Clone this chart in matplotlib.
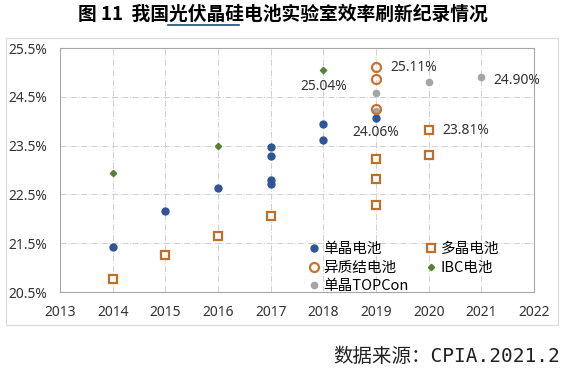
import matplotlib.pyplot as plt
from matplotlib.patches import Rectangle
from matplotlib.lines import Line2D
from matplotlib.ticker import FuncFormatter

plt.rcParams['font.family'] = ['Noto Sans', 'Noto Sans CJK SC', 'DejaVu Sans']

# 数据（效率 %）
mono_x = [2014, 2015, 2016, 2017, 2017, 2017, 2017, 2018, 2018, 2019]
mono_y = [21.42, 22.16, 22.63, 23.47, 23.28, 22.79, 22.72, 23.95, 23.61, 24.06]

poly_x = [2014, 2015, 2016, 2017, 2019, 2019, 2019, 2020, 2020]
poly_y = [20.77, 21.26, 21.65, 22.06, 23.23, 22.82, 22.29, 23.81, 23.30]

hjt_x = [2019, 2019, 2019]
hjt_y = [25.11, 24.86, 24.26]

ibc_x = [2014, 2016, 2018]
ibc_y = [22.94, 23.49, 25.04]

topcon_x = [2019, 2019, 2020, 2021]
topcon_y = [24.58, 24.21, 24.80, 24.90]

cjk = ['Noto Sans CJK SC', 'DejaVu Sans']

fig = plt.figure(figsize=(5.66, 3.71), dpi=100)

# 外框
fig.patches.append(Rectangle((6 / 566, 1 - 325 / 371), 552 / 566, 287 / 371,
                             transform=fig.transFigure, fill=False,
                             edgecolor='#d9d9d9', lw=0.8))

ax = fig.add_axes([60 / 566, 1 - 292 / 371, 474 / 566, 244 / 371])

h_mono, = ax.plot(mono_x, mono_y, 'o', color='#2F5597', ms=5, label='单晶电池', zorder=3)
h_poly, = ax.plot(poly_x, poly_y, 's', mfc='white', mec='#BF6F2A', mew=1.6, ms=6,
                  label='多晶电池', zorder=3)
h_hjt, = ax.plot(hjt_x, hjt_y, 'o', mfc='none', mec='#C8742E', mew=1.6, ms=6.5,
                 label='异质结电池', zorder=3)
h_ibc, = ax.plot(ibc_x, ibc_y, 'D', color='#548235', ms=3.2, label='IBC电池', zorder=3)
h_top, = ax.plot(topcon_x, topcon_y, 'o', color='#A5A5A5', ms=4.5, label='单晶TOPCon',
                 zorder=2)

# 数据标签
lab = dict(textcoords='offset points', fontsize=10, color='#333333')
ax.annotate('25.04%', (2018, 25.04), xytext=(0, -6), ha='center', va='top', **lab)
ax.annotate('25.11%', (2019, 25.11), xytext=(10, 0), ha='left', va='center', **lab)
ax.annotate('24.90%', (2021, 24.90), xytext=(9, -2), ha='left', va='center', **lab)
ax.annotate('24.06%', (2019, 24.06), xytext=(0, -5), ha='center', va='top', **lab)
ax.annotate('23.81%', (2020, 23.81), xytext=(10, 0), ha='left', va='center', **lab)

ax.set_xlim(2013, 2022)
ax.set_ylim(20.5, 25.5)
ax.set_xticks(range(2013, 2023))
ax.set_yticks([20.5, 21.5, 22.5, 23.5, 24.5, 25.5])
ax.yaxis.set_major_formatter(FuncFormatter(lambda v, p: f'{v:.1f}%'))
ax.tick_params(length=0, labelsize=10, labelcolor='#333333', pad=9)
ax.grid(True, color='#d0d0d0', ls='-.', lw=0.7)
for s in ax.spines.values():
    s.set_color('#a6a6a6')
    s.set_linewidth(0.8)

# 图例：按行排列（matplotlib按列填充，所以调整顺序）
handles = [h_mono, h_hjt, h_top, h_poly, h_ibc]
ax.legend(handles, [h.get_label() for h in handles], ncol=2,
          loc='lower left', bbox_to_anchor=(0.503, -0.046),
          frameon=False, handlelength=0.7, handletextpad=0.3,
          columnspacing=1.2, labelspacing=0.3, borderpad=0.2,
          prop={'family': cjk, 'size': 10.5})

# 标题
title_str = '图 11  我国光伏晶硅电池实验室效率刷新纪录情况'
ty = 1 - 14 / 371
t = fig.text(0.5, ty, title_str, ha='center', va='center', fontsize=13.5,
             fontweight='bold', family=cjk)

# "光伏晶硅" 下划线
fig.canvas.draw()
r = fig.canvas.get_renderer()
bb = t.get_window_extent(r)
tmp1 = fig.text(0, 0, '图 11  我国', fontsize=13.5, fontweight='bold', family=cjk)
tmp2 = fig.text(0, 0, '图 11  我国光伏晶硅', fontsize=13.5, fontweight='bold', family=cjk)
w1 = tmp1.get_window_extent(r).width
w2 = tmp2.get_window_extent(r).width
tmp1.remove()
tmp2.remove()
W, H = fig.bbox.width, fig.bbox.height
uy = bb.y0 - 1
fig.lines.append(Line2D([(bb.x0 + w1 - 1) / W, (bb.x0 + w2 - 5) / W], [uy / H, uy / H],
                        transform=fig.transFigure, color='#1F4E79', lw=1.2))

fig.text(560 / 566, 1 - 357 / 371, '数据来源：CPIA.2021.2', ha='right',
         va='center', fontsize=14,
         family=['DejaVu Sans Mono', 'Noto Sans CJK SC'], color='#222222')

fig.savefig('out.png', dpi=100)
